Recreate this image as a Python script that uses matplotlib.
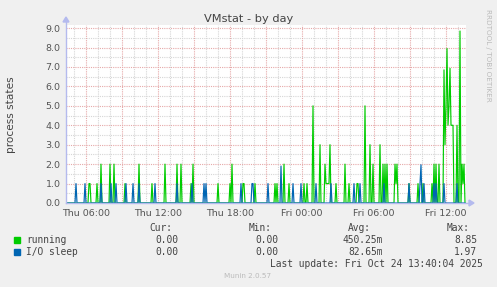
import matplotlib
matplotlib.use("Agg")
import matplotlib.pyplot as plt
import numpy as np
from matplotlib.patches import Rectangle, Polygon

# ---------------- data (5-minute samples, spikes only; zero elsewhere) -------------
running_times = ["Thu 06:15", "Thu 06:20", "Thu 06:55", "Thu 07:15", "Thu 08:00", "Thu 08:20",
                 "Thu 09:15", "Thu 10:25", "Thu 11:30", "Thu 12:35", "Thu 13:35", "Thu 13:55",
                 "Thu 14:45", "Thu 14:55", "Thu 17:00", "Thu 18:00", "Thu 18:10", "Thu 19:05",
                 "Thu 19:10", "Thu 20:05", "Thu 21:45", "Thu 21:55", "Thu 22:30", "Thu 22:55",
                 "Fri 00:10", "Fri 00:25", "Fri 00:55", "Fri 01:30", "Fri 01:55", "Fri 02:00",
                 "Fri 02:05", "Fri 02:10", "Fri 02:15", "Fri 02:20", "Fri 02:50", "Fri 03:35",
                 "Fri 03:55", "Fri 04:35", "Fri 04:40", "Fri 05:15", "Fri 05:40", "Fri 05:55",
                 "Fri 06:30", "Fri 06:45", "Fri 06:55", "Fri 07:05", "Fri 07:45", "Fri 07:50",
                 "Fri 07:55", "Fri 08:55", "Fri 09:40", "Fri 10:05", "Fri 10:50", "Fri 11:00",
                 "Fri 11:10", "Fri 11:25", "Fri 11:50", "Fri 11:55", "Fri 12:00", "Fri 12:05",
                 "Fri 12:10", "Fri 12:15", "Fri 12:20", "Fri 12:25", "Fri 12:30", "Fri 12:35",
                 "Fri 12:55", "Fri 13:10", "Fri 13:20", "Fri 13:25", "Fri 13:30"]
running_vals = [1, 1, 1, 2, 2, 2,
                1, 2, 1, 2, 2, 2,
                1, 2, 1, 1, 2, 1,
                1, 1, 1, 1, 2, 1,
                1, 1, 5, 3, 2, 1,
                1, 1, 1, 3, 1, 2,
                1, 1, 1, 5, 3, 2,
                3, 2, 2, 2, 2, 1,
                2, 1, 1, 1, 1, 2,
                2, 2, 6.85, 3, 5, 7.95,
                4, 5, 6.93, 4, 4, 4,
                4, 8.85, 2, 1, 2]

io_times = ["Thu 05:10", "Thu 05:55", "Thu 07:15", "Thu 08:05", "Thu 08:30", "Thu 09:20",
            "Thu 09:55", "Thu 10:25", "Thu 11:45", "Thu 13:35", "Thu 14:50", "Thu 15:50",
            "Thu 16:00", "Thu 18:55", "Thu 19:50", "Thu 19:55", "Thu 21:10", "Thu 22:15",
            "Thu 23:15", "Thu 23:55", "Fri 01:10", "Fri 02:25", "Fri 04:20", "Fri 04:50",
            "Fri 06:50", "Fri 08:55", "Fri 09:50", "Fri 09:55", "Fri 10:10", "Fri 11:00",
            "Fri 11:10", "Fri 11:50", "Fri 12:55"]
io_vals = [1, 1, 1, 1, 1, 1,
           1, 1, 1, 1, 1, 1,
           1, 1, 1, 1, 1, 1.9,
           1, 1, 1, 1, 1, 1,
           1, 1, 1, 1.97, 1, 1,
           1, 1, 1]

y_ticks = [0, 1, 2, 3, 4, 5, 6, 7, 8, 9]
x_tick_labels = ["Thu 06:00", "Thu 12:00", "Thu 18:00", "Fri 00:00", "Fri 06:00", "Fri 12:00"]

legend_names = ["running", "I/O sleep"]
legend_cur = ["0.00", "0.00"]
legend_min = ["0.00", "0.00"]
legend_avg = ["450.25m", "82.65m"]
legend_max = ["8.85", "1.97"]

# ---------------- helpers -------------
def to_min(s):
    d, hm = s.split()
    h, m = hm.split(":")
    return (0 if d == "Thu" else 1440) + int(h) * 60 + int(m)

t_start, t_end = to_min("Thu 04:20"), to_min("Fri 13:40")
t = np.arange(t_start, t_end, 5)

def series(times, vals):
    y = np.zeros(len(t))
    for s, v in zip(times, vals):
        y[(to_min(s) - t_start) // 5] = v
    return y

run = series(running_times, running_vals)
io = series(io_times, io_vals)

# ---------------- figure -------------
W, H = 497, 287
fig = plt.figure(figsize=(W / 100, H / 100), dpi=100, facecolor="#F0F0F0")

def fx(x):
    return x / W

def fy(y):
    return 1 - y / H

left, right, top, bottom = 66, 466, 25, 203
ax = fig.add_axes([fx(left), fy(bottom), fx(right - left), (bottom - top) / H])
ax.set_facecolor("white")
ax.set_xlim(t_start, t_end)
ax.set_ylim(0, 9.16)

# grid
minor_col = "#D6D6D6"
major_col = "#E6A9A9"
ls = (0, (1, 1))
for yv in np.arange(0.5, 9.1, 1.0):
    ax.axhline(yv, color=minor_col, lw=0.8, ls=ls, zorder=1)
for hr in range(5, 38):
    xm = hr * 60
    if t_start < xm < t_end:
        ax.axvline(xm, color=major_col if hr % 3 == 0 else minor_col, lw=0.8, ls=ls, zorder=1)
for yv in y_ticks:
    if yv > 0:
        ax.axhline(yv, color=major_col, lw=0.8, ls=ls, zorder=1)

ax.plot(t, run, color="#00CC00", lw=0.85, zorder=3)
ax.plot(t, io, color="#0066B3", lw=0.85, zorder=4)

ax.set_yticks(y_ticks)
ax.set_yticklabels([f"{v:.1f}" for v in y_ticks])
ax.set_xticks([to_min(s) for s in x_tick_labels])
ax.set_xticklabels(x_tick_labels)
ax.tick_params(axis="both", length=0, labelsize=6.8, colors="#555555", pad=4)
for sp in ax.spines.values():
    sp.set_visible(False)

axis_col = "#B4BAEE"
# axes lines with arrows (in figure pixels)
fig.add_artist(plt.Line2D([fx(66), fx(66)], [fy(203), fy(22)], color=axis_col, lw=1.0))
fig.add_artist(plt.Line2D([fx(66), fx(469)], [fy(203), fy(203)], color=axis_col, lw=1.0))
fig.add_artist(Polygon([[fx(63), fy(22)], [fx(69), fy(22)], [fx(66), fy(17)]],
                       closed=True, color=axis_col, transform=fig.transFigure))
fig.add_artist(Polygon([[fx(469), fy(200)], [fx(469), fy(206)], [fx(474), fy(203)]],
                       closed=True, color=axis_col, transform=fig.transFigure))

# title and labels
fig.text(fx(248.5), fy(19), "VMstat - by day", ha="center", va="center", fontsize=8.2, color="#444444")
fig.text(fx(11), fy(115), "process states", ha="center", va="center", rotation=90,
         fontsize=7.6, color="#444444")
fig.text(fx(488), fy(55), "RRDTOOL / TOBI OETIKER", ha="center", va="center", rotation=270,
         fontsize=5.2, color="#BBBBBB")

# legend
mono = "DejaVu Sans Mono"
fs = 6.9
tc = "#444444"
hy = 228
for lbl, xr in zip(["Cur:", "Min:", "Avg:", "Max:"], [172, 272, 371, 470]):
    fig.text(fx(xr), fy(hy), lbl, ha="right", va="center", family=mono, fontsize=fs, color=tc)
colors = ["#00CC00", "#0066B3"]
for i, name in enumerate(legend_names):
    yy = 240 + i * 11.7
    fig.add_artist(Rectangle((fx(14), fy(yy + 3)), 6 / W, 6 / H, color=colors[i],
                             transform=fig.transFigure))
    fig.text(fx(26.5), fy(yy), name, ha="left", va="center", family=mono, fontsize=fs, color=tc)
    for val, xr in zip([legend_cur[i], legend_min[i], legend_avg[i], legend_max[i]],
                       [178.5, 278.5, 383, 477]):
        fig.text(fx(xr), fy(yy), val, ha="right", va="center", family=mono, fontsize=fs, color=tc)

fig.text(fx(482.5), fy(263.7), "Last update: Fri Oct 24 13:40:04 2025", ha="right", va="center",
         family=mono, fontsize=fs, color=tc)
fig.text(fx(247.5), fy(276), "Munin 2.0.57", ha="center", va="center", fontsize=5.2, color="#BBBBBB")

fig.savefig("out.png", dpi=100, facecolor=fig.get_facecolor())
